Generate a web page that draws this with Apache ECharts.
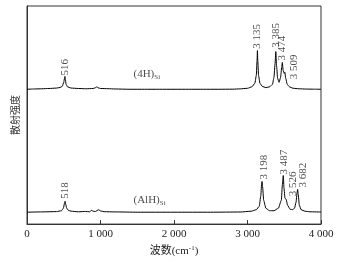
<!DOCTYPE html>
<html>
<head>
<meta charset="utf-8">
<script src="https://cdn.jsdelivr.net/npm/echarts@6/dist/echarts.min.js"></script>
<style>html,body{margin:0;padding:0;background:#fff}#c{width:342px;height:262px}</style>
</head>
<body>
<div id="c"></div>
<script>
// x-axis ticks (wavenumber, cm^-1)
var xTicks = [0, 1000, 2000, 3000, 4000];

// Spectrum (4H)Si : [wavenumber, scattering intensity (offset, arbitrary units)]
var spec4H = [
  [0,136],[100,136.3],[200,136.5],[300,136.8],[400,137.2],[450,137.8],[480,139],[500,143],[510,147],[516,149],[522,146],[532,141],[550,138.5],[600,137.2],[700,136.8],[800,136.5],[900,136.8],[930,137.5],[950,138.5],[965,137.5],[1000,136.8],[1100,136.6],[1200,136.3],[1400,136],[1600,136],[1800,136],[2000,136],[2200,136],[2400,136],[2600,136],[2800,136.1],[2900,136.4],[3000,137],[3060,138.5],[3100,142],[3120,150],[3130,165],[3135,175],[3140,165],[3150,150],[3170,142],[3200,139],[3250,137.6],[3300,138.5],[3340,141],[3360,148],[3375,162],[3385,174],[3395,160],[3410,147],[3430,143],[3450,148],[3465,158],[3474,163],[3485,155],[3500,152],[3509,153],[3520,147],[3540,141],[3570,138.5],[3620,137],[3700,136.5],[3800,136.2],[3900,136.1],[4000,136]
];

// Spectrum (AlH)Si
var specAlH = [
  [0,12],[200,12.3],[400,12.6],[470,13.5],[495,16],[510,21],[518,23],[526,20],[540,16],[560,14],[600,13],[700,12.4],[800,12.8],[850,12.4],[880,13.8],[900,13],[930,12.7],[975,14.5],[1000,13.3],[1050,12.5],[1200,12.3],[1500,12],[2000,12],[2500,12],[2900,12.2],[3050,13],[3120,14.5],[3160,18],[3180,28],[3192,40],[3198,43],[3205,38],[3220,24],[3250,16],[3300,13.5],[3360,13.5],[3420,16],[3460,24],[3475,40],[3487,49],[3497,36],[3510,26],[3526,25],[3545,19],[3580,15],[3610,14.5],[3640,16],[3660,22],[3675,32],[3682,35],[3690,30],[3705,19],[3730,14.5],[3780,13],[3850,12.4],[4000,12.2]
];

// Peak annotations: text and anchor [wavenumber, intensity]
var peakText = ['516','3 135','3 385','3 474','3 509','518','3 198','3 487','3 526','3 682'];
var peakAnchor = [[516,150],[3135,177],[3385,178],[3474,165],[3640,146],[518,25.5],[3220,45],[3500,50],[3625,28],[3750,37]];

// Sample names
var sampleMain = ['(4H)','(AlH)'];
var sampleSub = ['Si','Si'];
var sampleAnchor = [[1449,151],[1449,24]];

var FONT = '"Liberation Serif","Times New Roman","Noto Sans CJK SC",serif';

var chart = echarts.init(document.getElementById('c'), null, {renderer:'canvas'});

function fmtK(v){
  if (v < 1000) return String(v);
  var s = String(v);
  return s.slice(0, s.length-3) + ' ' + s.slice(s.length-3);
}

var peakData = peakText.map(function(t,i){ return {value: peakAnchor[i], name: t}; });
var sampleData = sampleMain.map(function(t,i){ return {value: sampleAnchor[i], name: t, sub: sampleSub[i]}; });

chart.setOption({
  backgroundColor: '#fff',
  animation: false,
  grid: {left: 27, right: 21, top: 6, bottom: 36, show: true, borderColor: '#333', borderWidth: 1},
  xAxis: {
    type: 'value', min: 0, max: 4000, interval: 1000,
    axisLine: {show: true, lineStyle: {color: '#333', width: 1}},
    axisTick: {show: true, inside: true, length: 4, lineStyle: {color: '#333'}},
    splitLine: {show: false},
    axisLabel: {fontFamily: FONT, fontSize: 11, color: '#222', margin: 5,
      formatter: function(v){ return fmtK(v); }},
    name: '{a|波数(cm}{s|-1}{a|)}',
    nameLocation: 'middle', nameGap: 18,
    nameTextStyle: {
      rich: {
        a: {fontFamily: FONT, fontSize: 11, color: '#222'},
        s: {fontFamily: FONT, fontSize: 7, color: '#222', padding: [0,0,6,0]}
      }
    }
  },
  yAxis: {
    type: 'value', min: 0, max: 220,
    axisLine: {show: true, lineStyle: {color: '#333', width: 1}},
    axisTick: {show: false}, axisLabel: {show: false}, splitLine: {show: false},
    name: '散射强度', nameLocation: 'middle', nameGap: 6, nameRotate: 90,
    nameTextStyle: {fontFamily: FONT, fontSize: 10, color: '#333'}
  },
  series: [
    {type: 'line', data: spec4H, showSymbol: false, smooth: 0.2, smoothMonotone: 'x',
      lineStyle: {color: '#000', width: 1}, silent: true},
    {type: 'line', data: specAlH, showSymbol: false, smooth: 0.2, smoothMonotone: 'x',
      lineStyle: {color: '#000', width: 1}, silent: true},
    {type: 'scatter', data: peakData, symbolSize: 0, silent: true,
      label: {show: true, position: [0,0], rotate: 90, align: 'left', verticalAlign: 'middle',
        fontFamily: FONT, fontSize: 11, color: '#222',
        formatter: function(p){ return p.name; }}},
    {type: 'scatter', data: sampleData, symbolSize: 0, silent: true,
      label: {show: true, position: [0,0], align: 'left', verticalAlign: 'middle',
        formatter: function(p){ return '{m|' + p.name + '}{s|' + p.data.sub + '}'; },
        rich: {
          m: {fontFamily: FONT, fontSize: 11, color: '#222'},
          s: {fontFamily: FONT, fontSize: 7, color: '#222', padding: [5,0,0,0]}
        }}}
  ]
});
</script>
</body>
</html>
